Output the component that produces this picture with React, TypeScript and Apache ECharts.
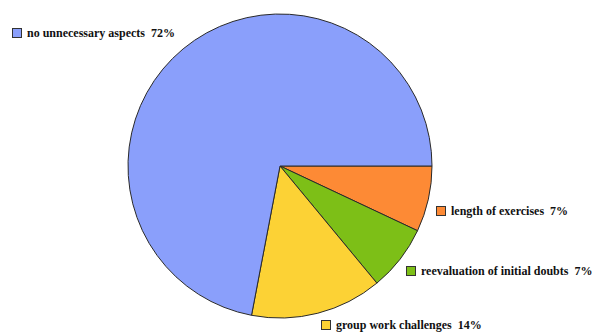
import React, { useEffect, useRef } from "react";
import * as echarts from "echarts";

const categories = [
  "length of exercises",
  "reevaluation of initial doubts",
  "group work challenges",
  "no unnecessary aspects",
];
const values = [7, 7, 14, 72];
const colors = ["#fd8a35", "#7dbf17", "#fcd235", "#8a9ffb"];
// label anchor positions (left edge of square, vertical middle)
const labelPos = [
  [437, 211],
  [407, 271],
  [322, 325],
  [13, 33],
];

const FONT = "serif";

export default function App() {
  const ref = useRef<HTMLDivElement>(null);
  useEffect(() => {
    if (!ref.current) return;
    const chart = echarts.init(ref.current, null, { renderer: "svg" });
    const data = categories.map((name, i) => ({
      name,
      value: values[i],
      itemStyle: { color: colors[i] },
      label: {
        rich: {
          sq: {
            width: 8,
            height: 8,
            backgroundColor: colors[i],
            borderColor: "#333",
            borderWidth: 1,
          },
          t: {
            fontFamily: FONT,
            fontWeight: "bold",
            fontSize: 12,
            color: "#111",
          },
        },
      },
    }));
    chart.setOption({
      animation: false,
      backgroundColor: "#ffffff",
      series: [
        {
          type: "pie",
          center: [280, 166],
          radius: 152,
          startAngle: 0,
          clockwise: true,
          data,
          itemStyle: { borderColor: "#2a2a2a", borderWidth: 1 },
          emphasis: { disabled: true },
          labelLine: { show: false },
          label: {
            show: true,
            position: "outside",
            overflow: "none",
            width: 300,
            fontFamily: FONT,
            fontWeight: "bold",
            fontSize: 12,
            color: "#111",
            formatter: (p: any) => `{sq|}  {t|${p.name}  ${p.value}%}`,
          },
          labelLayout: (p: any) => ({
            x: labelPos[p.dataIndex][0],
            y: labelPos[p.dataIndex][1],
            align: "left",
            verticalAlign: "middle",
            hideOverlap: false,
          }),
        },
      ],
    });
    return () => chart.dispose();
  }, []);
  return (
    <div
      ref={ref}
      style={{ position: "absolute", left: 0, top: 0, width: 603, height: 335 }}
    />
  );
}
